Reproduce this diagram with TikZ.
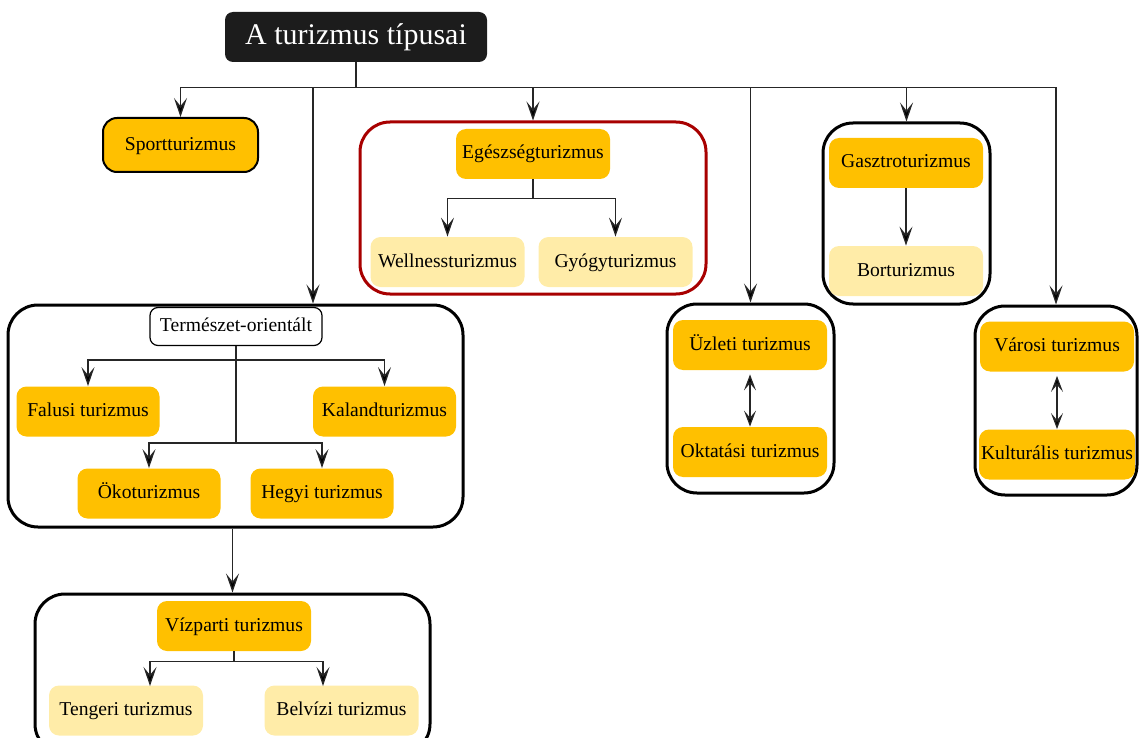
\documentclass[tikz,border=0pt]{standalone}
\usepackage{fontspec}
\setmainfont{Liberation Serif}
\usetikzlibrary{calc}
\usetikzlibrary{arrows.meta}

\definecolor{gold}{HTML}{FFC000}
\definecolor{pale}{HTML}{FFECA8}
\definecolor{darkred}{HTML}{A80000}
\definecolor{nearblack}{HTML}{1C1C1C}

\tikzset{
  titlebox/.style={fill=nearblack, text=white, rounded corners=4pt, minimum width=131pt, minimum height=25pt, font=\fontsize{15}{18}\selectfont},
  mainbox/.style={fill=gold, rounded corners=5pt, minimum width=77pt, minimum height=25pt, inner sep=1pt, text height=7pt, text depth=2pt, font=\fontsize{9.8}{12}\selectfont},
  narrowbox/.style={mainbox, minimum width=71.5pt},
  subbox/.style={mainbox, fill=pale},
  grp/.style={draw=black, line width=1.5pt, rounded corners=15pt},
  conn/.style={draw=black!85, line width=0.65pt},
  arr/.style={conn, -{Stealth[length=9.5pt, width=6.5pt, inset=4pt, fill=black]}},
  dbl/.style={conn, {Stealth[length=8pt, width=6pt, inset=3.5pt, fill=black]}-{Stealth[length=8pt, width=6pt, inset=3.5pt, fill=black]}}
}

\begin{document}
\begin{tikzpicture}[x=0.5pt, y=-0.5pt]

\clip (0,0) rectangle (1141,738);

\node[grp, draw=darkred, minimum width=173pt, minimum height=86pt] (healthgrp) at (533,208) {};
\node[grp, minimum width=83.5pt, minimum height=90.5pt] (gasztgrp) at (906.5,213.5) {};
\node[grp, minimum width=83.5pt, minimum height=94.5pt] (uzletgrp) at (750.5,398.5) {};
\node[grp, minimum width=81pt, minimum height=94.5pt] (varosgrp) at (1056,400.5) {};
\node[grp, minimum width=227.5pt, minimum height=111pt] (natgrp) at (235.5,416) {};
\node[grp, minimum width=197.5pt, minimum height=80pt] (watergrp) at (232.5,674) {};

\node[titlebox] (title) at (356,37) {A turizmus típusai};

\node[mainbox, draw=black, line width=1pt, rounded corners=7pt, minimum width=77.5pt, minimum height=27pt] (sport) at (180.5,145) {Sportturizmus};

\node[mainbox] (egesz) at (533,154) {Egészségturizmus};
\node[subbox] (wellness) at (447.5,262) {Wellnessturizmus};
\node[subbox] (gyogy) at (615.5,262) {Gyógyturizmus};

\node[mainbox] (gasztro) at (906,163) {Gasztroturizmus};
\node[subbox] (bor) at (906,271) {Borturizmus};

\node[mainbox] (uzlet) at (750,345) {Üzleti turizmus};
\node[mainbox] (oktat) at (750,452) {Oktatási turizmus};

\node[mainbox] (varos) at (1057,346.5) {Városi turizmus};
\node[mainbox] (kultur) at (1057,454.5) {Kulturális turizmus};

\node[mainbox, fill=white, draw=black, line width=0.6pt, rounded corners=4pt, minimum width=86pt, minimum height=19pt] (nat) at (236,326.5) {Természet-orientált};
\node[narrowbox] (falusi) at (88,411.5) {Falusi turizmus};
\node[narrowbox] (kaland) at (384.5,411.5) {Kalandturizmus};
\node[narrowbox] (oko) at (149,493.5) {Ökoturizmus};
\node[narrowbox] (hegyi) at (322,493.5) {Hegyi turizmus};

\node[mainbox] (viz) at (234,626) {Vízparti turizmus};
\node[subbox] (tenger) at (126,710.5) {Tengeri turizmus};
\node[subbox] (belviz) at (341.5,710.5) {Belvízi turizmus};

\coordinate (hub) at ($(title.south)+(0,25)$);
\coordinate (natin) at ($(natgrp.north)+(77.5,0)$);
\coordinate (eh) at ($(egesz.south)+(0,19)$);
\coordinate (nh1) at ($(nat.south)+(0,14)$);
\coordinate (nh2) at ($(nat.south)+(0,97)$);
\coordinate (vh) at ($(viz.south)+(0,10)$);
\coordinate (tin) at (150,686);
\coordinate (bin) at (323,686);

\draw[conn] (title.south) -- (hub);
\draw[arr] (hub) -| (sport.north);
\draw[arr] (hub) -| (natin);
\draw[arr] (hub) -| (healthgrp.north);
\draw[arr] (hub) -| (uzletgrp.north);
\draw[arr] (hub) -| (gasztgrp.north);
\draw[arr] (hub) -| (varosgrp.north);

\draw[conn] (egesz.south) -- (eh);
\draw[arr] (eh) -| (wellness.north);
\draw[arr] (eh) -| (gyogy.north);

\draw[arr] (gasztro.south) -- (bor.north);
\draw[dbl, shorten <=2pt] (uzlet.south) -- (oktat.north);
\draw[dbl, shorten <=2pt] (varos.south) -- (kultur.north);

\draw[conn] (nat.south) -- (nh2);
\draw[arr] (nh1) -| (falusi.north);
\draw[arr] (nh1) -| (kaland.north);
\draw[arr] (nh2) -| (oko.north);
\draw[arr] (nh2) -| (hegyi.north);

\draw[arr] (watergrp.north |- natgrp.south) -- (watergrp.north);

\draw[conn] (viz.south) -- (vh);
\draw[arr] (vh) -| (tin);
\draw[arr] (vh) -| (bin);

\end{tikzpicture}
\end{document}
